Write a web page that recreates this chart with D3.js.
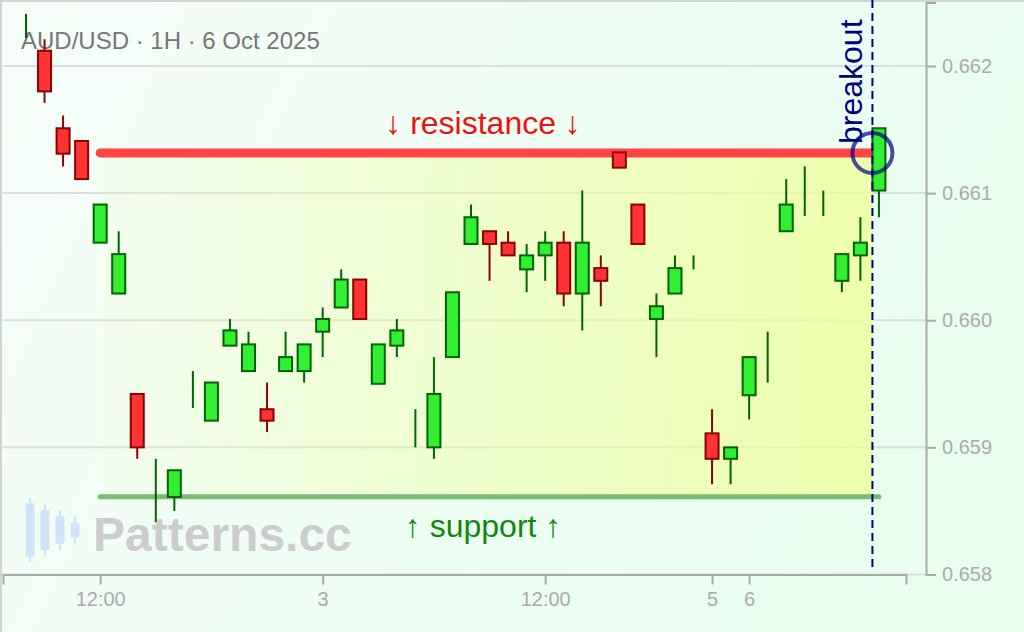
<!DOCTYPE html>
<html><head><meta charset="utf-8">
<script src="https://cdn.jsdelivr.net/npm/d3@7"></script>
<style>html,body{margin:0;padding:0;background:#f0fff4;overflow:hidden}</style>
</head><body><svg id="c" width="1024" height="632"></svg>
<script>
// ---- data ----
const title = "AUD/USD · 1H · 6 Oct 2025";
const opens  = [0.66230,0.66212,0.66151,0.66141,0.66061,0.66021,0.65942,0.65866,0.65861,0.65945,0.65921,0.65980,0.65960,0.65930,0.65960,0.65960,0.65991,0.66010,0.66032,0.65950,0.65980,0.65915,0.65900,0.65971,0.66060,0.66070,0.66061,0.66040,0.66051,0.66061,0.66021,0.66041,0.66132,0.66091,0.66001,0.66021,0.66045,0.65911,0.65891,0.65941,0.65970,0.66070,0.66100,0.66090,0.66031,0.66051,0.66102];
const highs  = [0.66241,0.66221,0.66161,0.66141,0.66091,0.66070,0.65942,0.65891,0.65882,0.65960,0.65951,0.66001,0.65991,0.65951,0.65991,0.65981,0.66010,0.66040,0.66032,0.65981,0.66001,0.65930,0.65971,0.66022,0.66091,0.66070,0.66070,0.66060,0.66070,0.66070,0.66102,0.66051,0.66132,0.66091,0.66021,0.66051,0.66051,0.65930,0.65900,0.65971,0.65991,0.66111,0.66121,0.66102,0.66052,0.66081,0.66151];
const lows   = [0.66222,0.66171,0.66121,0.66111,0.66061,0.66021,0.65891,0.65841,0.65850,0.65931,0.65921,0.65980,0.65960,0.65912,0.65960,0.65951,0.65971,0.66010,0.66001,0.65950,0.65971,0.65900,0.65891,0.65971,0.66060,0.66031,0.66051,0.66022,0.66031,0.66011,0.65992,0.66011,0.66120,0.66060,0.65971,0.66021,0.66040,0.65871,0.65871,0.65922,0.65951,0.66070,0.66082,0.66082,0.66022,0.66031,0.66081];
const closes = [0.66230,0.66180,0.66131,0.66111,0.66091,0.66052,0.65900,0.65866,0.65882,0.65945,0.65951,0.65992,0.65981,0.65921,0.65971,0.65981,0.66001,0.66032,0.66001,0.65981,0.65992,0.65915,0.65942,0.66022,0.66081,0.66060,0.66051,0.66051,0.66061,0.66021,0.66061,0.66031,0.66120,0.66060,0.66011,0.66041,0.66045,0.65891,0.65900,0.65971,0.65970,0.66091,0.66100,0.66090,0.66052,0.66061,0.66151];
const xTickIndex  = [4, 16, 28, 37, 39];
const xTickLabels = ["12:00", "3", "12:00", "5", "6"];
const yTickValues = [0.658, 0.659, 0.660, 0.661, 0.662];
const resistance = 0.661316;
const support = 0.658611;
const patternStart = 4;
const breakoutIndex = 46;
const resistanceLabel = "↓ resistance ↓";
const supportLabel = "↑ support ↑";
const breakoutLabel = "breakout";
const watermark = "Patterns.cc";
const logoBars = [[27, 32], [20, 25.5], [14, 20], [7.5, 13.5]];

// ---- chart ----
const FONT = "'Liberation Sans', Arial, Helvetica, sans-serif";
const svg = d3.select("#c");
const defs = svg.append("defs");
const bg = defs.append("linearGradient").attr("id","bg").attr("x1","0").attr("y1","0").attr("x2","1").attr("y2","0.3");
bg.append("stop").attr("offset","0").attr("stop-color","#f6fdf8");
bg.append("stop").attr("offset","1").attr("stop-color","#e8fff0");
const sh = defs.append("linearGradient").attr("id","shade").attr("x1","0").attr("y1","0").attr("x2","1").attr("y2","0");
sh.append("stop").attr("offset","0").attr("stop-color","#f2ff9a").attr("stop-opacity",0.08);
sh.append("stop").attr("offset","1").attr("stop-color","#eeff99").attr("stop-opacity",0.78);

svg.append("rect").attr("width",1024).attr("height",632).attr("fill","url(#bg)");
svg.append("rect").attr("x",1).attr("y",1).attr("width",1040).attr("height",650)
  .attr("fill","none").attr("stroke","#d0d4d0").attr("stroke-width",2);

const x = d3.scaleLinear().domain([-1.24, 47.46]).range([3, 906]);
const y = d3.scaleLinear().domain([0.658, 0.6625]).range([574.5, 2.4]);
const bodyW = 13;
const candles = opens.map((o,i)=>({i, o, h:highs[i], l:lows[i], c:closes[i]}));

// gridlines
svg.append("g").selectAll("line").data(yTickValues).join("line")
  .attr("x1",3).attr("x2",926).attr("y1",d=>y(d)).attr("y2",d=>y(d))
  .attr("stroke","#dcdedc").attr("stroke-width",2);

// watermark
const logo = svg.append("g").attr("fill","#cfe4fa");
logoBars.forEach((b,k)=>{
  const cx = 30 + k*15, cy = 530;
  logo.append("rect").attr("x",cx-1).attr("y",cy-b[1]).attr("width",2).attr("height",2*b[1]);
  logo.append("rect").attr("x",cx-4.5).attr("y",cy-b[0]).attr("width",9).attr("height",2*b[0]).attr("rx",2);
});
svg.append("text").attr("x",93).attr("y",551).text(watermark)
  .attr("font-family",FONT).attr("font-weight","bold").attr("font-size",48).attr("fill","#cccccc");

// axes
const xAxis = d3.axisBottom(x).tickValues(xTickIndex).tickFormat((d,i)=>xTickLabels[i])
  .tickSize(10).tickSizeOuter(10).tickPadding(7);
const gx = svg.append("g").attr("transform","translate(0,574.5)").call(xAxis);
const yAxis = d3.axisRight(y).tickValues(yTickValues).tickFormat(d3.format(".3f"))
  .tickSize(10).tickSizeOuter(10).tickPadding(6);
const gy = svg.append("g").attr("transform","translate(926,0)").call(yAxis);
[gx, gy].forEach(g=>{
  g.select(".domain").attr("stroke","#aaaaaa").attr("stroke-width",2);
  g.selectAll(".tick line").attr("stroke","#aaaaaa").attr("stroke-width",2);
  g.selectAll(".tick text").attr("fill","#aaaaaa").attr("font-size",20).attr("font-family",FONT);
});

// title
svg.append("text").attr("x",21).attr("y",49).text(title)
  .attr("font-family",FONT).attr("font-size",24).attr("fill","#777777");

// pattern zone
const bx = x(breakoutIndex) - bodyW/2;
const x0 = x(patternStart);
svg.append("rect").attr("x",x0).attr("y",y(resistance)).attr("width",bx-x0)
  .attr("height",y(support)-y(resistance)).attr("fill","url(#shade)");
svg.append("line").attr("x1",x0).attr("x2",x(breakoutIndex)).attr("y1",y(support)).attr("y2",y(support))
  .attr("stroke","#77bd74").attr("stroke-width",5).attr("stroke-linecap","round");
defs.append("clipPath").attr("id","resclip").append("rect").attr("x",0).attr("y",0).attr("width",bx).attr("height",632);
svg.append("line").attr("clip-path","url(#resclip)").attr("x1",x0).attr("x2",bx+6).attr("y1",y(resistance)).attr("y2",y(resistance))
  .attr("stroke","#ff4545").attr("stroke-width",9).attr("stroke-linecap","round");

// candles
const cg = svg.append("g").selectAll("g").data(candles).join("g");
cg.append("line").attr("x1",d=>x(d.i)).attr("x2",d=>x(d.i)).attr("y1",d=>y(d.h)).attr("y2",d=>y(d.l))
  .attr("stroke",d=>d.c>=d.o?"#006400":"#8b0000").attr("stroke-width",2);
cg.filter(d=>d.c!==d.o).append("rect")
  .attr("x",d=>x(d.i)-bodyW/2).attr("width",bodyW)
  .attr("y",d=>y(Math.max(d.o,d.c))).attr("height",d=>Math.abs(y(d.o)-y(d.c)))
  .attr("fill",d=>d.c>d.o?"#33ee33":"#ff3333")
  .attr("stroke",d=>d.c>d.o?"#006400":"#8b0000").attr("stroke-width",2);

// breakout
svg.append("line").attr("x1",bx).attr("x2",bx).attr("y1",0).attr("y2",570)
  .attr("stroke","#000080").attr("stroke-width",2).attr("stroke-dasharray","8,5");
svg.append("circle").attr("cx",bx).attr("cy",y(resistance)).attr("r",20)
  .attr("fill","none").attr("stroke","#000080").attr("stroke-width",4).attr("opacity",0.7);
svg.append("text").attr("transform",`translate(${bx-10.5},144) rotate(-90)`).text(breakoutLabel)
  .attr("font-family",FONT).attr("font-size",32).attr("fill","#000080");

// labels
const lx = x(24.65);
svg.append("text").attr("x",lx).attr("y",y(resistance)-19).attr("text-anchor","middle").text(resistanceLabel)
  .attr("font-family",FONT).attr("font-size",32).attr("fill","#ee1111");
svg.append("text").attr("x",lx).attr("y",y(support)+40).attr("text-anchor","middle").text(supportLabel)
  .attr("font-family",FONT).attr("font-size",32).attr("fill","#118811");
</script></body></html>
